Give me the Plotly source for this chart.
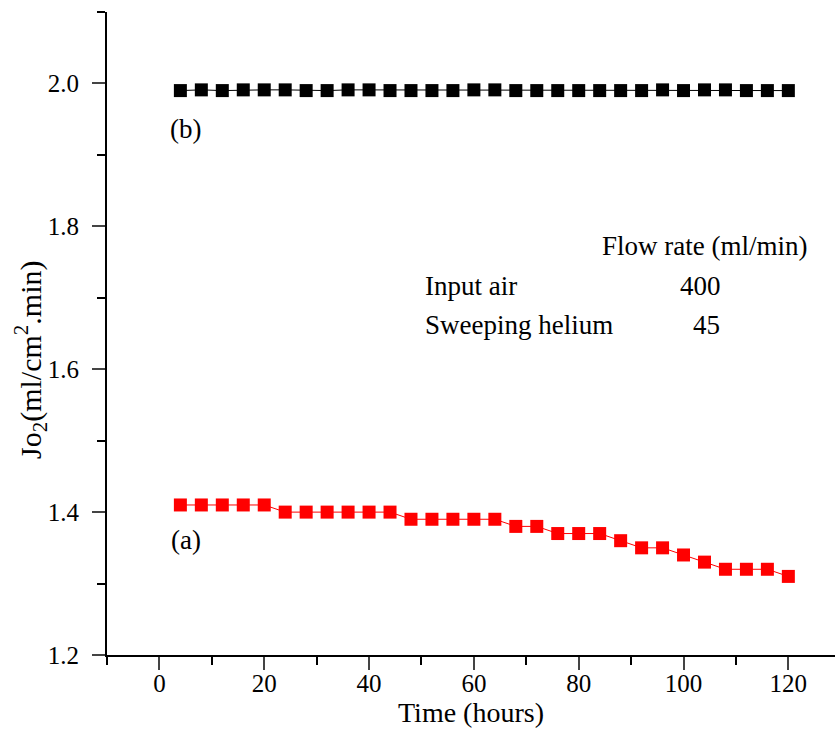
import plotly.graph_objects as go

# Oxygen permeation flux over time
time_h = [4, 8, 12, 16, 20, 24, 28, 32, 36, 40, 44, 48, 52, 56, 60,
          64, 68, 72, 76, 80, 84, 88, 92, 96, 100, 104, 108, 112, 116, 120]
flux_a = [1.41, 1.41, 1.41, 1.41, 1.41, 1.40, 1.40, 1.40, 1.40, 1.40, 1.40,
          1.39, 1.39, 1.39, 1.39, 1.39, 1.38, 1.38, 1.37, 1.37, 1.37, 1.36,
          1.35, 1.35, 1.34, 1.33, 1.32, 1.32, 1.32, 1.31]
flux_b = [1.990, 1.991, 1.990, 1.991, 1.991, 1.991, 1.990, 1.990, 1.991, 1.991,
          1.990, 1.990, 1.990, 1.990, 1.991, 1.991, 1.990, 1.990, 1.990, 1.990,
          1.990, 1.990, 1.990, 1.991, 1.990, 1.991, 1.991, 1.990, 1.990, 1.990]

x_ticks = [0, 20, 40, 60, 80, 100, 120]
y_ticks = [1.2, 1.4, 1.6, 1.8, 2.0]

FONT = "Liberation Serif"

fig = go.Figure()
fig.add_trace(go.Scatter(
    x=time_h, y=flux_a, mode="lines+markers",
    line=dict(color="red", width=1),
    marker=dict(symbol="square", size=13, color="red"),
    showlegend=False,
))
fig.add_trace(go.Scatter(
    x=time_h, y=flux_b, mode="lines+markers",
    line=dict(color="black", width=1),
    marker=dict(symbol="square", size=13, color="black"),
    showlegend=False,
))

txt = dict(family=FONT, size=27, color="black")
annotations = [
    dict(x=5.0, y=1.361, text="(a)"),
    dict(x=5.0, y=1.9356, text="(b)"),
]
for a in annotations:
    a.update(xref="x", yref="y", showarrow=False, font=txt, xanchor="center", yanchor="middle")

# plot area in pixels: left 107, right 835, top 12, bottom 655
def px_to_paper(px, py):
    return (px - 107) / (835 - 107), 1 - (py - 12) / (655 - 12)

table = [
    (600, 246, "Flow rate (ml/min)", "left"),
    (423, 286, "Input air", "left"),
    (700, 286, "400", "center"),
    (423, 325, "Sweeping helium", "left"),
    (706, 325, "45", "center"),
]
for px, py, t, anc in table:
    x, y = px_to_paper(px, py)
    annotations.append(dict(
        x=x, y=y, xref="paper", yref="paper", text=t, showarrow=False,
        font=txt, xanchor=anc, yanchor="middle",
    ))

# y-axis title
tx, ty = px_to_paper(30, 360)
annotations.append(dict(
    x=tx, y=ty, xref="paper", yref="paper", showarrow=False, textangle=-90,
    text="Jo<sub>2</sub>(ml/cm<sup>2</sup>.min)",
    font=dict(family=FONT, size=30, color="black"),
    xanchor="center", yanchor="middle",
))

fig.update_layout(
    width=835, height=733,
    margin=dict(l=107, r=0, t=12, b=78),
    plot_bgcolor="white", paper_bgcolor="white",
    font=dict(family=FONT, size=25, color="black"),
    annotations=annotations,
)
fig.update_xaxes(
    range=[-10, 128.9], tickvals=x_ticks, ticks="outside", ticklen=13, tickwidth=2,
    ticklabelstandoff=-8,
    showline=True, linecolor="black", linewidth=2, showgrid=False, zeroline=False,
    minor=dict(dtick=10, ticks="outside", ticklen=8, tickwidth=2, tickcolor="black", showgrid=False),
    tickfont=dict(family=FONT, size=25),
    title=dict(text="Time (hours)", font=dict(family=FONT, size=28), standoff=0),
)
fig.update_yaxes(
    range=[1.2, 2.1], tickvals=y_ticks, tickformat=".1f", ticks="outside", ticklen=13, tickwidth=2,
    ticklabelstandoff=8,
    showline=True, linecolor="black", linewidth=2, showgrid=False, zeroline=False,
    minor=dict(dtick=0.1, ticks="outside", ticklen=8, tickwidth=2, tickcolor="black", showgrid=False),
    tickfont=dict(family=FONT, size=25),
)

fig.write_html("out.html")
